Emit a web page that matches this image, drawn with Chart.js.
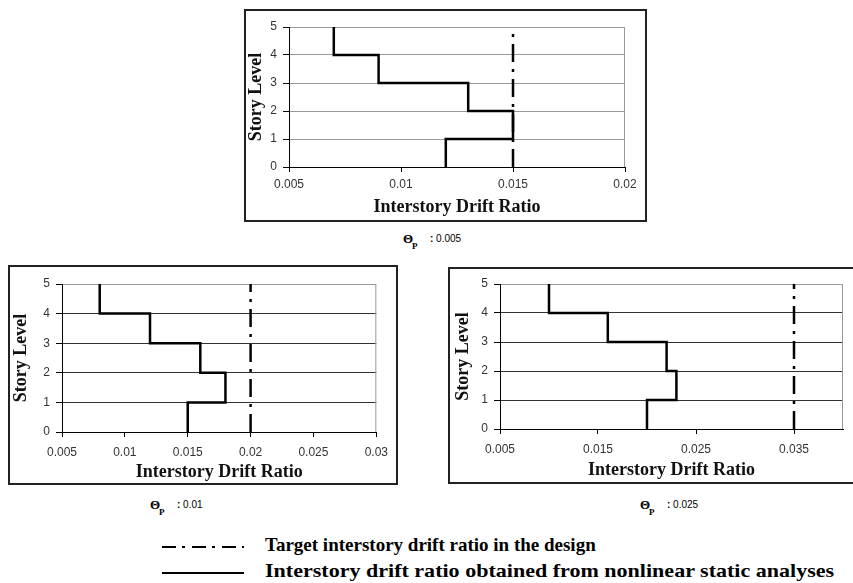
<!DOCTYPE html>
<html>
<head>
<meta charset="utf-8">
<script src="https://cdn.jsdelivr.net/npm/chart.js@4.4.1/dist/chart.umd.min.js"></script>
<style>
  body { margin: 0; width: 853px; height: 583px; overflow: hidden; background: #fff; position: relative; }
  .box { position: absolute; border: 2px solid #222; box-sizing: border-box; }
  .box canvas { position: absolute; left: 0; top: 0; }
  .cap { position: absolute; white-space: nowrap; }
  .cap .th { font: bold 13px "Liberation Serif", serif; position: absolute; left: 0; top: 0; }
  .cap .p { font: bold 9px "Liberation Serif", serif; position: absolute; left: 9px; top: 10px; }
  .cap .v { font: 10px "Liberation Sans", Arial, sans-serif; position: absolute; left: 27px; top: 2px; }
  .cap .v b { font-weight: bold; }
  .leg { position: absolute; left: 162px; font: bold 19px "Liberation Serif", serif; white-space: nowrap; }
  .leg .ln { position: absolute; left: 0; width: 82px; height: 2px; }
  .leg .tx { position: absolute; left: 103px; top: -12px; }
  .leg .wide { transform: scaleX(1.16); transform-origin: left center; }
  .dashdot { background: repeating-linear-gradient(to right, #000 0 14px, transparent 14px 20px, #000 20px 23px, transparent 23px 30px); }
  .solid { background: #000; }
</style>
</head>
<body>
<div class="box" id="b1" style="left:244px;top:9px;width:403px;height:213px"><canvas id="c1"></canvas></div>
<div class="box" id="b2" style="left:8px;top:265px;width:390px;height:220px"><canvas id="c2"></canvas></div>
<div class="box" id="b3" style="left:448px;top:267px;width:412px;height:217px"><canvas id="c3"></canvas></div>

<div class="cap" style="left:403px;top:231px"><span class="th">Θ</span><span class="p">P</span><span class="v"><b>:</b> 0.005</span></div>
<div class="cap" style="left:150px;top:497px"><span class="th">Θ</span><span class="p">P</span><span class="v"><b>:</b> 0.01</span></div>
<div class="cap" style="left:640px;top:497px"><span class="th">Θ</span><span class="p">P</span><span class="v"><b>:</b> 0.025</span></div>

<div class="leg" style="top:546px"><div class="ln dashdot"></div><div class="tx">Target interstory drift ratio in the design</div></div>
<div class="leg" style="top:572px"><div class="ln solid"></div><div class="tx wide">Interstory drift ratio obtained from nonlinear static analyses</div></div>

<script>
// story levels (floor lines) and drift of each story, story 1 .. 5
const levels = [0, 1, 2, 3, 4, 5];
const drift005 = [0.012, 0.015, 0.013, 0.009, 0.007];
const drift01 = [0.015, 0.018, 0.016, 0.012, 0.008];
const drift025 = [0.020, 0.023, 0.022, 0.016, 0.010];
const targets = [0.015, 0.02, 0.035];

const xRange005 = [0.005, 0.02];
const xRange01 = [0.005, 0.03];
const xRange025 = [0.005, 0.04];
const xTicks005 = [0.005, 0.01, 0.015, 0.02];
const xTicks01 = [0.005, 0.01, 0.015, 0.02, 0.025, 0.03];
const xTicks025 = [0.005, 0.015, 0.025, 0.035];
const yTicks = [0, 1, 2, 3, 4, 5];

// build the stepped profile: vertical run over each story, jog at each floor
function stepPoints(drift) {
  const pts = [];
  drift.forEach((d, i) => {
    pts.push({ x: d, y: levels[i] });
    pts.push({ x: d, y: levels[i + 1] });
  });
  return pts;
}

const frame = {
  id: 'frame',
  afterDraw(chart) {
    const a = chart.chartArea, ctx = chart.ctx;
    ctx.save();
    ctx.strokeStyle = '#999';
    ctx.lineWidth = 1;
    ctx.beginPath();
    ctx.moveTo(a.right - 0.5, a.top);
    ctx.lineTo(a.right - 0.5, a.bottom);
    ctx.stroke();
    ctx.restore();
  }
};

function makeChart(id, box, plot, drift, target, range, ticks, opt) {
  const canvas = document.getElementById(id);
  const w = box.w - 4, h = box.h - 4;
  const ox = box.x + 2, oy = box.y + 2;
  canvas.width = w;
  canvas.height = h;
  const tickFont = { family: '"Liberation Sans", Arial, sans-serif', size: 12 };
  const titleFont = { family: '"Liberation Serif", "Times New Roman", serif', size: 18, weight: 'bold' };
  return new Chart(canvas.getContext('2d'), {
    type: 'scatter',
    data: {
      datasets: [
        {
          data: stepPoints(drift),
          showLine: true,
          borderColor: '#000',
          borderWidth: 2.5,
          pointRadius: 0,
          borderJoinStyle: 'miter',
        },
        {
          data: [{ x: target, y: levels[0] }, { x: target, y: levels[levels.length - 1] }],
          showLine: true,
          borderColor: '#000',
          borderWidth: 2.5,
          borderDash: [18, 7, 3, 7],
          pointRadius: 0,
        },
      ],
    },
    options: {
      responsive: false,
      animation: false,
      layout: { padding: { top: plot.y - oy, right: ox + w - plot.r, left: 0, bottom: 0 } },
      plugins: { legend: { display: false }, tooltip: { enabled: false } },
      scales: {
        x: {
          type: 'linear',
          min: range[0],
          max: range[1],
          afterBuildTicks: (s) => { s.ticks = ticks.map((v) => ({ value: v })); },
          afterFit: (s) => { s.height = oy + h - plot.b; },
          grid: { drawOnChartArea: false, tickLength: 5, tickColor: '#000' },
          border: { color: '#000', width: 1 },
          ticks: {
            font: tickFont, color: '#333', padding: opt.xPad, maxRotation: 0, autoSkip: false,
            callback: (v) => String(+v.toFixed(4)),
          },
          title: { display: true, text: 'Interstory Drift Ratio', font: titleFont, color: '#111', padding: { top: 0, bottom: opt.xTitlePad } },
        },
        y: {
          type: 'linear',
          min: 0,
          max: 5,
          afterBuildTicks: (s) => { s.ticks = yTicks.map((v) => ({ value: v })); },
          afterFit: (s) => { s.width = plot.x - ox; },
          grid: {
            color: (c) => (c.tick && c.tick.value === 5 ? '#999' : opt.grid),
            lineWidth: 1, tickLength: 6, tickColor: '#000',
          },
          border: { color: '#000', width: 1 },
          ticks: { font: tickFont, color: '#333', padding: 6 },
          title: { display: true, text: 'Story Level', font: titleFont, color: '#111', padding: { top: opt.yTitlePad, bottom: 0 } },
        },
      },
    },
    plugins: [frame],
  });
}

makeChart('c1', { x: 244, y: 9, w: 403, h: 213 }, { x: 289, r: 625, y: 27, b: 167 },
  drift005, targets[0], xRange005, xTicks005, { xPad: 5, xTitlePad: 2, yTitlePad: 0, grid: '#999' });
makeChart('c2', { x: 8, y: 265, w: 390, h: 220 }, { x: 62, r: 382, y: 284, b: 432 },
  drift01, targets[1], xRange01, xTicks01, { xPad: 8, xTitlePad: 0, yTitlePad: 1, grid: '#333' });
makeChart('c3', { x: 448, y: 267, w: 412, h: 217 }, { x: 500, r: 843, y: 284, b: 429 },
  drift025, targets[2], xRange025, xTicks025, { xPad: 8, xTitlePad: 1, yTitlePad: 3, grid: '#333' });
</script>
</body>
</html>
